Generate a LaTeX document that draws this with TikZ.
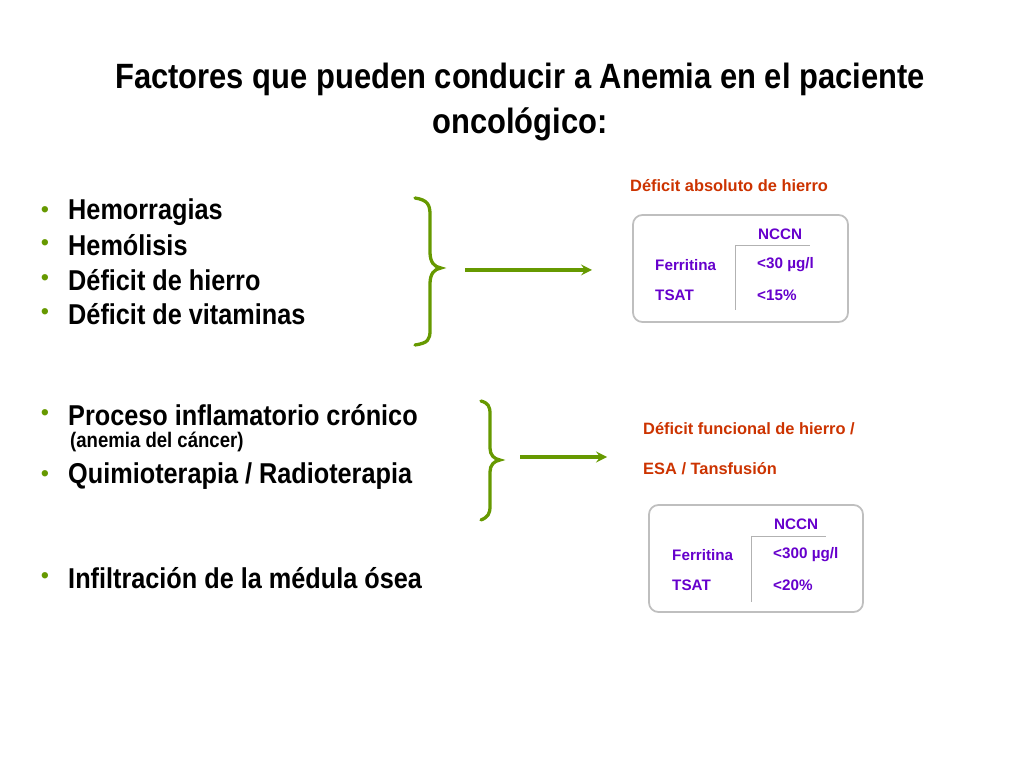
\documentclass[tikz,border=0pt]{standalone}
\usepackage{fontspec}
\setmainfont{Liberation Sans}
\newfontfamily\narrow[FakeStretch=0.88]{Liberation Sans}
\begin{document}
\begin{tikzpicture}[x=0.03cm,y=-0.03cm]
\definecolor{grn}{RGB}{102,153,0}
\definecolor{redt}{RGB}{204,51,0}
\definecolor{purp}{RGB}{102,0,204}
\definecolor{bul}{RGB}{102,153,0}
\tikzset{
 title/.style={font=\narrow\bfseries\fontsize{30}{38}\selectfont,align=center},
 item/.style={anchor=west,font=\narrow\bfseries\fontsize{24.5}{28}\selectfont,inner sep=0},
 dot/.style={anchor=center,text=bul,font=\fontsize{20}{22}\selectfont,inner sep=0},
 redl/.style={anchor=west,text=redt,font=\bfseries\fontsize{14}{16}\selectfont,inner sep=0},
 cell/.style={anchor=west,text=purp,font=\bfseries\fontsize{13}{15}\selectfont,inner sep=0},
 tbox/.style={draw=black!25,line width=1.5pt,rounded corners=8pt},
 brace/.style={draw=grn,line width=2.8pt,line cap=round},
 arr/.style={draw=grn,line width=3pt,-{stealth}}
}
\useasboundingbox (0,0) rectangle (1024,768);
\node[title] (t) at (520,102) {Factores que pueden conducir a Anemia en el paciente\\oncológico:};
\foreach \y/\t/\n in {212/Hemorragias/a,245/Hemólisis/b,280/Déficit de hierro/c,314/Déficit de vitaminas/d,415/Proceso inflamatorio crónico/e,476/{Quimioterapia / Radioterapia}/f,578/Infiltración de la médula ósea/g}{
 \node[dot] (d\n) at (45,\y) {•};
 \node[item] (i\n) at (68,\y) {\t};
}
\node[anchor=west,font=\narrow\bfseries\fontsize{18}{20}\selectfont,inner sep=0] (sub) at (70,442) {(anemia del cáncer)};
% braces
\draw[brace] (415,198) .. controls (428,200) and (430,205) .. (430,215) -- (430,252) .. controls (430,262) and (434,267) .. (441,268) .. controls (434,269) and (430,274) .. (430,284) -- (430,330) .. controls (430,340) and (428,343) .. (415,345);
\draw[brace] (481,401) .. controls (488,403) and (490,406) .. (490,414) -- (490,448) .. controls (490,455) and (494,459) .. (500,460) .. controls (494,461) and (490,465) .. (490,472) -- (490,506) .. controls (490,514) and (488,517) .. (481,520);
\coordinate (a1s) at (465,270); \coordinate (a1e) at (592,270);
\coordinate (a2s) at (520,457); \coordinate (a2e) at (607,457);
\draw[arr] (a1s) -- (a1e);
\draw[arr] (a2s) -- (a2e);
\node[redl] (r1) at (630,186) {Déficit absoluto de hierro};
\node[redl] (r2) at (643,429) {Déficit funcional de hierro /};
\node[redl] (r3) at (643,469) {ESA / Tansfusión};
% box 1
\draw[tbox] (633,215) rectangle (848,322);
\draw[black!30] (735,245) -- (810,245) (735,245) -- (735,310);
\node[cell] (n1) at (758,234) {NCCN};
\node[cell] (f1) at (655,265) {Ferritina};
\node[cell] (v1) at (757,265) {<30 µg/l};
\node[cell] (s1) at (655,295) {TSAT};
\node[cell] (w1) at (757,295) {<15\%};
% box 2
\draw[tbox] (649,505) rectangle (863,612);
\draw[black!30] (751,536) -- (826,536) (751,536) -- (751,602);
\node[cell] (n2) at (774,524) {NCCN};
\node[cell] (f2) at (672,555) {Ferritina};
\node[cell] (v2) at (773,555) {<300 µg/l};
\node[cell] (s2) at (672,585) {TSAT};
\node[cell] (w2) at (773,585) {<20\%};
\end{tikzpicture}
\end{document}
